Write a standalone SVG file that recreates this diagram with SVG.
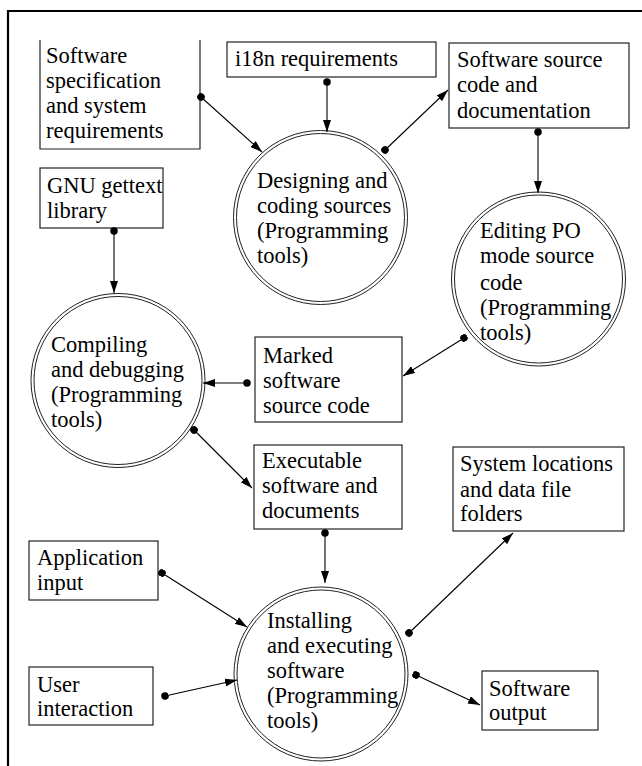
<svg xmlns="http://www.w3.org/2000/svg" width="642" height="766" viewBox="0 0 642 766">
<style>
text{font-family:'Liberation Serif','Times New Roman',serif;font-size:22.5px;fill:#000}
.box{fill:#fff;stroke:#222;stroke-width:1.2}
.ring{fill:#fff;stroke:#222;stroke-width:1}
.ring2{fill:none;stroke:#222;stroke-width:1}
.con line{stroke:#000;stroke-width:1.1;marker-start:url(#dot);marker-end:url(#arr)}
</style>
<defs>
<marker id="arr" viewBox="0 0 12 8" refX="12" refY="4" markerWidth="12" markerHeight="8" markerUnits="userSpaceOnUse" orient="auto">
<path d="M0,0 L12,4 L0,8 z" fill="#000"/>
</marker>
<marker id="dot" viewBox="0 0 8 8" refX="4" refY="4" markerWidth="7.5" markerHeight="7.5" markerUnits="userSpaceOnUse" orient="auto">
<circle cx="4" cy="4" r="4" fill="#000"/>
</marker>
</defs>
<rect width="642" height="766" fill="#fff"/>
<path d="M8,766 V11 H642" fill="none" stroke="#000" stroke-width="2.2"/>
<g id="n-spec">
<path class="box" d="M40,40 V149 H200 V40" fill="none"/>
<text><tspan x="46" y="63">Software</tspan><tspan x="46" y="88">specification</tspan><tspan x="46" y="113">and system</tspan><tspan x="46" y="138">requirements</tspan></text>
</g>
<g id="n-i18n">
<rect class="box" x="227" y="42" width="209" height="35"/>
<text x="235" y="66">i18n requirements</text>
</g>
<g id="n-source">
<rect class="box" x="449" y="43" width="180" height="85"/>
<text><tspan x="457" y="67">Software source</tspan><tspan x="457" y="92">code and</tspan><tspan x="457" y="118">documentation</tspan></text>
</g>
<g id="n-gettext">
<rect class="box" x="40" y="168" width="123" height="60"/>
<text><tspan x="47" y="193">GNU gettext</tspan><tspan x="47" y="218">library</tspan></text>
</g>
<g id="n-marked">
<rect class="box" x="255" y="337" width="147" height="85"/>
<text><tspan x="263" y="363">Marked</tspan><tspan x="263" y="388">software</tspan><tspan x="263" y="413">source code</tspan></text>
</g>
<g id="n-exec">
<rect class="box" x="254" y="445" width="148" height="84"/>
<text><tspan x="262" y="468">Executable</tspan><tspan x="262" y="493">software and</tspan><tspan x="262" y="518">documents</tspan></text>
</g>
<g id="n-sysloc">
<rect class="box" x="453" y="447" width="171" height="84"/>
<text><tspan x="460" y="471">System locations</tspan><tspan x="460" y="497">and data file</tspan><tspan x="460" y="521">folders</tspan></text>
</g>
<g id="n-appinput">
<rect class="box" x="29" y="541" width="129" height="59"/>
<text><tspan x="37" y="565">Application</tspan><tspan x="37" y="590">input</tspan></text>
</g>
<g id="n-user">
<rect class="box" x="29" y="667" width="124" height="58"/>
<text><tspan x="37" y="692">User</tspan><tspan x="37" y="716">interaction</tspan></text>
</g>
<g id="n-output">
<rect class="box" x="482" y="671" width="116" height="59"/>
<text><tspan x="489" y="696">Software</tspan><tspan x="489" y="720">output</tspan></text>
</g>
<g id="p-design">
<circle class="ring" cx="320.5" cy="217.5" r="87"/>
<circle class="ring2" cx="320.5" cy="217.5" r="84"/>
<text><tspan x="257" y="188">Designing and</tspan><tspan x="257" y="213">coding sources</tspan><tspan x="257" y="238">(Programming</tspan><tspan x="257" y="263">tools)</tspan></text>
</g>
<g id="p-edit">
<circle class="ring" cx="538.5" cy="279" r="87"/>
<circle class="ring2" cx="538.5" cy="279" r="84"/>
<text><tspan x="480" y="238">Editing PO</tspan><tspan x="480" y="263">mode source</tspan><tspan x="480" y="290">code</tspan><tspan x="480" y="315">(Programming</tspan><tspan x="480" y="340">tools)</tspan></text>
</g>
<g id="p-compile">
<circle class="ring" cx="118" cy="380.5" r="87"/>
<circle class="ring2" cx="118" cy="380.5" r="84"/>
<text><tspan x="51" y="352">Compiling</tspan><tspan x="51" y="377">and debugging</tspan><tspan x="51" y="402">(Programming</tspan><tspan x="51" y="427">tools)</tspan></text>
</g>
<g id="p-install">
<circle class="ring" cx="321" cy="674" r="87"/>
<circle class="ring2" cx="321" cy="674" r="84"/>
<text><tspan x="267" y="628">Installing</tspan><tspan x="267" y="653">and executing</tspan><tspan x="267" y="678">software</tspan><tspan x="267" y="703">(Programming</tspan><tspan x="267" y="728">tools)</tspan></text>
</g>
<g id="connectors" class="con">
<line x1="201" y1="97" x2="262" y2="152"/>
<line x1="327" y1="82" x2="327" y2="132"/>
<line x1="385" y1="150" x2="448" y2="90"/>
<line x1="538" y1="132" x2="538" y2="193"/>
<line x1="464" y1="338" x2="403" y2="376"/>
<line x1="247" y1="383" x2="203" y2="383"/>
<line x1="114" y1="231" x2="114" y2="293"/>
<line x1="194" y1="430" x2="252" y2="488"/>
<line x1="325" y1="533" x2="325" y2="583"/>
<line x1="162" y1="573" x2="247" y2="627"/>
<line x1="165" y1="696" x2="237" y2="680"/>
<line x1="409" y1="633" x2="513" y2="533"/>
<line x1="416" y1="675" x2="480" y2="705"/>
</g>
</svg>
